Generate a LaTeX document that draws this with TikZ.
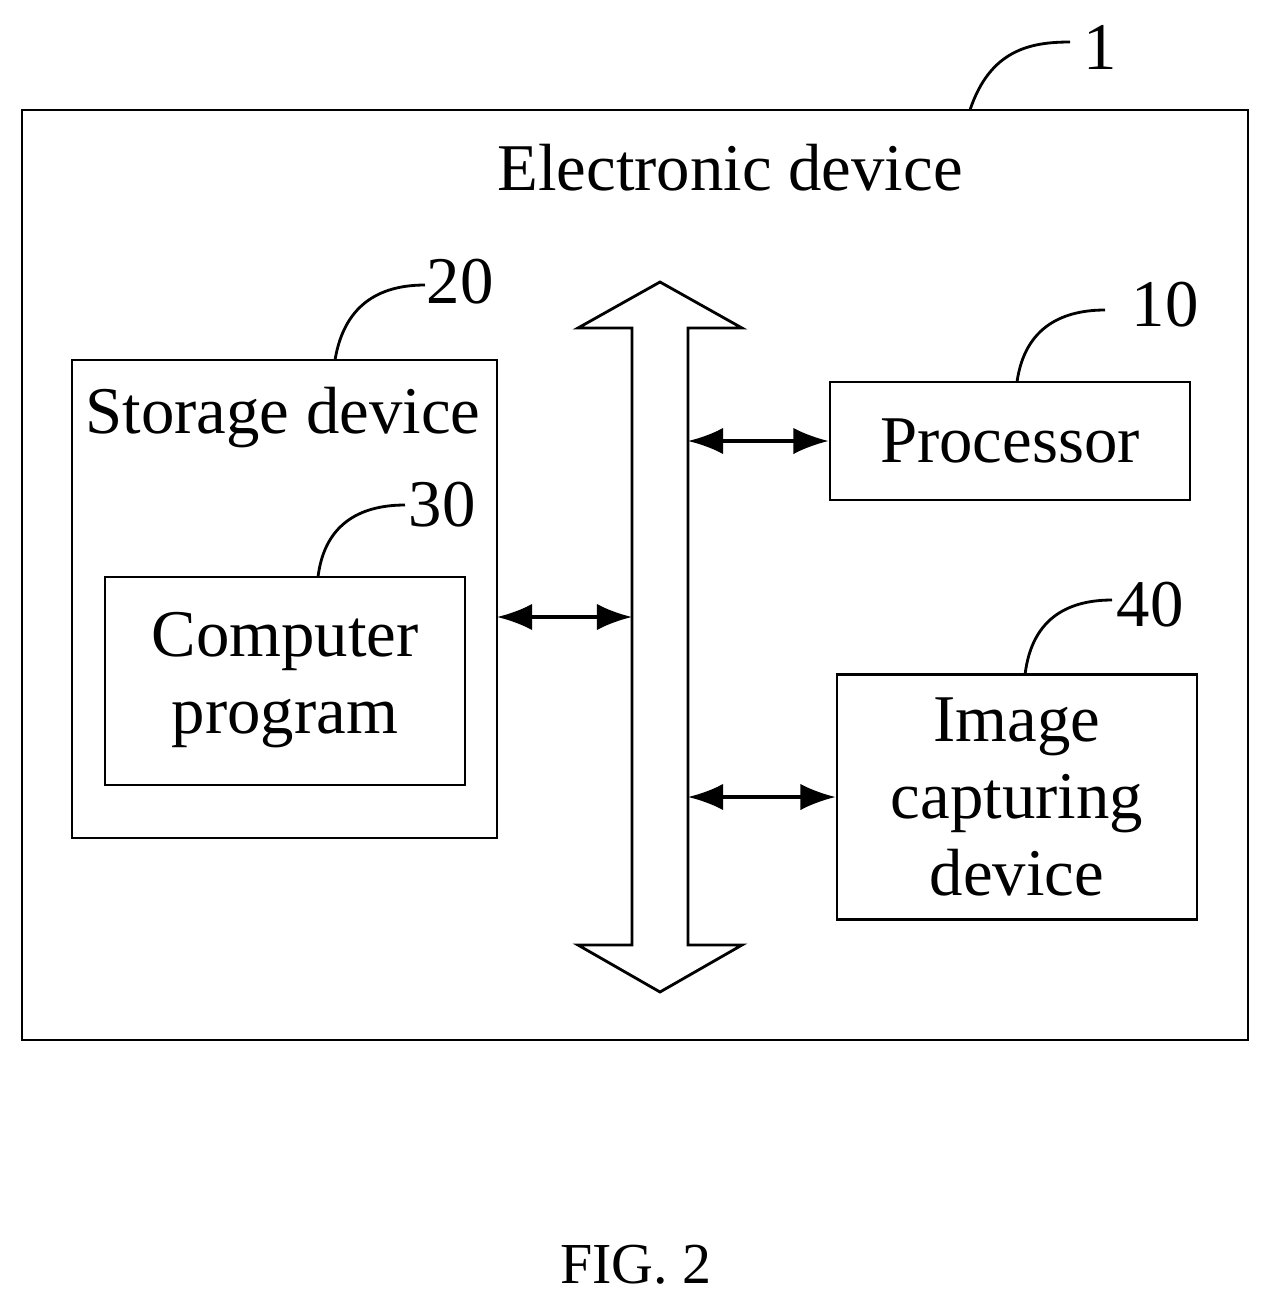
\documentclass[tikz,border=0pt]{standalone}
\usepackage{fontspec}
\setmainfont{Liberation Serif}
\usetikzlibrary{arrows.meta}
\usetikzlibrary{positioning}

\tikzset{
    box/.style={draw, line width=1.6pt},
    txt/.style={font=\fontsize{38}{44}\selectfont, align=center},
    link/.style={{Latex[length=20pt,width=15pt]}-{Latex[length=20pt,width=15pt]}, line width=1.8pt},
    tag/.style={line width=1.6pt}
}

\begin{document}
\begin{tikzpicture}[x=0.02cm, y=-0.02cm]
                \useasboundingbox (0,0) rectangle (1272,1303);
                % outer frame
                \draw[line width=1.6pt] (22,110) rectangle (1248,1040);
                \node[txt] (title) at (730,168) {Electronic device};
                \node[txt] (n1) at (1100,47) {1};
                \draw[tag] (970,110) .. controls (990,50) and (1030,42) .. (1070,42);

                % storage
                \draw[line width=1.6pt] (72,360) rectangle (497,838);
                \coordinate (storeR) at (497,617);
                \node[txt] (store) at (283,418) {Storage device};
                \node[txt] (n20) at (460,282) {20};
                \draw[tag] (335,360) .. controls (345,300) and (385,285) .. (425,285);

                % program
                \draw[line width=1.6pt] (105,577) rectangle (465,785);
                \node[txt] (prog) at (285,680) {Computer\\program};
                \node[txt] (n30) at (442,505) {30};
                \draw[tag] (318,577) .. controls (325,520) and (365,505) .. (405,505);

                % bus
                \draw[line width=1.6pt] (632,328) -- (578,328) -- (660,282) -- (742,328) -- (688,328)
                    -- (688,945) -- (742,945) -- (660,992) -- (578,945) -- (632,945) -- cycle;
                \coordinate (busL) at (632,617);
                \coordinate (busP) at (688,441);
                \coordinate (busI) at (688,797);

                % processor
                \node[box, minimum width=7.2cm, minimum height=2.36cm, txt] (cpu) at (1010,441) {Processor};
                \node[txt] (n10) at (1165,305) {10};
                \draw[tag] (1017,382) .. controls (1025,325) and (1065,310) .. (1105,310);

                % camera
                \node[box, minimum width=7.2cm, minimum height=4.9cm, txt] (cam) at (1017,797) {Image\\capturing\\device};
                \node[txt] (n40) at (1150,605) {40};
                \draw[tag] (1025,675) .. controls (1032,615) and (1072,600) .. (1112,600);

                % links
                \draw[link] (storeR) -- (busL);
                \draw[link] (busP) -- (cpu.west);
                \draw[link] (busI) -- (cam.west);

                \node[txt, font=\fontsize{33}{40}\selectfont] (fig) at (636,1265) {FIG. 2};
            \end{tikzpicture}
\end{document}
